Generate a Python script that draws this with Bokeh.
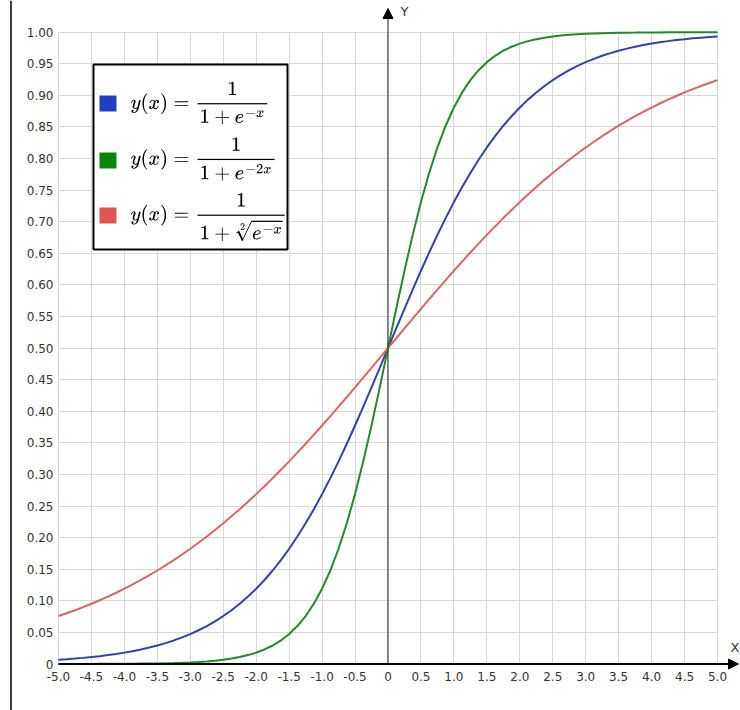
from bokeh.plotting import figure
from bokeh.models import (Range1d, FixedTicker, Arrow, NormalHead, Label, BoxAnnotation,
                          TeX, Span)
from bokeh.embed import file_html
from bokeh.resources import INLINE

# ---- data ----
x_vals = [-5.0, -4.875, -4.75, -4.625, -4.5, -4.375, -4.25, -4.125, -4.0, -3.875,
          -3.75, -3.625, -3.5, -3.375, -3.25, -3.125, -3.0, -2.875, -2.75, -2.625,
          -2.5, -2.375, -2.25, -2.125, -2.0, -1.875, -1.75, -1.625, -1.5, -1.375,
          -1.25, -1.125, -1.0, -0.875, -0.75, -0.625, -0.5, -0.375, -0.25, -0.125,
          0.0,
          0.125, 0.25, 0.375, 0.5, 0.625, 0.75, 0.875, 1.0, 1.125, 1.25,
          1.375, 1.5, 1.625, 1.75, 1.875, 2.0, 2.125, 2.25, 2.375, 2.5,
          2.625, 2.75, 2.875, 3.0, 3.125, 3.25, 3.375, 3.5, 3.625, 3.75,
          3.875, 4.0, 4.125, 4.25, 4.375, 4.5, 4.625, 4.75, 4.875, 5.0]

blue_vals = [0.0067, 0.0076, 0.0086, 0.0097, 0.0111, 0.0124, 0.0141, 0.0159, 0.0180, 0.0203,
             0.0230, 0.0260, 0.0293, 0.0331, 0.0373, 0.0421, 0.0474, 0.0534, 0.0601, 0.0675,
             0.0759, 0.0851, 0.0953, 0.1067, 0.1192, 0.1330, 0.1480, 0.1645, 0.1824, 0.2018,
             0.2227, 0.2451, 0.2689, 0.2942, 0.3208, 0.3486, 0.3775, 0.4073, 0.4378, 0.4688,
             0.5000,
             0.5312, 0.5622, 0.5927, 0.6225, 0.6514, 0.6792, 0.7058, 0.7311, 0.7549, 0.7773,
             0.7982, 0.8176, 0.8355, 0.8520, 0.8670, 0.8808, 0.8933, 0.9047, 0.9149, 0.9241,
             0.9325, 0.9399, 0.9466, 0.9526, 0.9579, 0.9627, 0.9669, 0.9707, 0.9740, 0.9770,
             0.9797, 0.9820, 0.9841, 0.9859, 0.9876, 0.9889, 0.9903, 0.9914, 0.9924, 0.9933]

green_vals = [0.0000, 0.0001, 0.0001, 0.0001, 0.0001, 0.0002, 0.0002, 0.0003, 0.0003, 0.0004,
              0.0006, 0.0007, 0.0009, 0.0012, 0.0015, 0.0019, 0.0025, 0.0032, 0.0041, 0.0052,
              0.0067, 0.0086, 0.0111, 0.0141, 0.0180, 0.0230, 0.0293, 0.0373, 0.0474, 0.0601,
              0.0759, 0.0953, 0.1192, 0.1480, 0.1824, 0.2227, 0.2689, 0.3208, 0.3775, 0.4378,
              0.5000,
              0.5622, 0.6225, 0.6792, 0.7311, 0.7773, 0.8176, 0.8520, 0.8808, 0.9047, 0.9241,
              0.9399, 0.9526, 0.9627, 0.9707, 0.9770, 0.9820, 0.9859, 0.9889, 0.9914, 0.9933,
              0.9948, 0.9959, 0.9968, 0.9975, 0.9981, 0.9985, 0.9988, 0.9991, 0.9993, 0.9994,
              0.9996, 0.9997, 0.9997, 0.9998, 0.9998, 0.9999, 0.9999, 0.9999, 0.9999, 1.0000]

red_vals = [0.0759, 0.0804, 0.0851, 0.0901, 0.0953, 0.1009, 0.1067, 0.1128, 0.1192, 0.1259,
            0.1330, 0.1403, 0.1480, 0.1561, 0.1645, 0.1733, 0.1824, 0.1919, 0.2018, 0.2121,
            0.2227, 0.2337, 0.2451, 0.2568, 0.2689, 0.2814, 0.2942, 0.3074, 0.3208, 0.3346,
            0.3486, 0.3630, 0.3775, 0.3923, 0.4073, 0.4225, 0.4378, 0.4533, 0.4688, 0.4844,
            0.5000,
            0.5156, 0.5312, 0.5467, 0.5622, 0.5775, 0.5927, 0.6077, 0.6225, 0.6370, 0.6514,
            0.6654, 0.6792, 0.6926, 0.7058, 0.7186, 0.7311, 0.7432, 0.7549, 0.7663, 0.7773,
            0.7879, 0.7982, 0.8081, 0.8176, 0.8267, 0.8355, 0.8439, 0.8520, 0.8597, 0.8670,
            0.8741, 0.8808, 0.8872, 0.8933, 0.8991, 0.9047, 0.9099, 0.9149, 0.9196, 0.9241]

series_formulas = [r"y(x) = \dfrac{1}{1+e^{-x}}",
                   r"y(x) = \dfrac{1}{1+e^{-2x}}",
                   r"y(x) = \dfrac{1}{1+\sqrt[2]{e^{-x}}}"]

x_ticks = [-5.0, -4.5, -4.0, -3.5, -3.0, -2.5, -2.0, -1.5, -1.0, -0.5, 0.0,
           0.5, 1.0, 1.5, 2.0, 2.5, 3.0, 3.5, 4.0, 4.5, 5.0]
x_tick_labels = ["-5.0", "-4.5", "-4.0", "-3.5", "-3.0", "-2.5", "-2.0", "-1.5", "-1.0", "-0.5", "0",
                 "0.5", "1.0", "1.5", "2.0", "2.5", "3.0", "3.5", "4.0", "4.5", "5.0"]
y_ticks = [0.0, 0.05, 0.1, 0.15, 0.2, 0.25, 0.3, 0.35, 0.4, 0.45, 0.5,
           0.55, 0.6, 0.65, 0.7, 0.75, 0.8, 0.85, 0.9, 0.95, 1.0]
y_tick_labels = ["0", "0.05", "0.10", "0.15", "0.20", "0.25", "0.30", "0.35", "0.40", "0.45", "0.50",
                 "0.55", "0.60", "0.65", "0.70", "0.75", "0.80", "0.85", "0.90", "0.95", "1.00"]

# ---- styles / layout ----
line_colors = ["#3142a8", "#23892a", "#de6464"]
swatch_colors = ["#1f3fc4", "#0b840b", "#e05656"]
TICK_FONT = "DejaVu Sans"
X0, X1 = -5.0, 5.0
Y0, Y1 = 0.0, 1.0

p = figure(width=740, height=710, output_backend="svg", toolbar_location=None,
           x_range=Range1d(-5.8801, 5.3490), y_range=Range1d(-0.0736, 1.0502),
           min_border=0, min_border_left=0, min_border_right=0,
           min_border_top=0, min_border_bottom=0)
p.outline_line_color = None
p.background_fill_color = "white"
p.border_fill_color = "white"

p.xaxis[0].fixed_location = Y0
p.yaxis[0].fixed_location = X0
for ax, ticks, labels, standoff in ((p.xaxis[0], x_ticks, x_tick_labels, 8),
                                    (p.yaxis[0], y_ticks, y_tick_labels, 5)):
    ax.ticker = FixedTicker(ticks=ticks)
    ax.major_label_overrides = {t: l for t, l in zip(ticks, labels)}
    ax.axis_line_color = None
    ax.major_tick_line_color = None
    ax.minor_tick_line_color = None
    ax.major_tick_out = 0
    ax.major_tick_in = 0
    ax.major_label_standoff = standoff
    ax.major_label_text_font = TICK_FONT
    ax.major_label_text_font_size = "12px"
    ax.major_label_text_color = "#333333"

p.xgrid[0].cross_bounds = (Y0, Y1)
p.ygrid[0].cross_bounds = (X0, X1)
for g in (p.xgrid[0], p.ygrid[0]):
    g.grid_line_color = "#d8d8d8"
    g.grid_line_width = 1

# curves
for ys, col in zip((blue_vals, green_vals, red_vals), line_colors):
    p.line(x_vals, ys, line_color=col, line_width=2)

# axes with arrows
p.add_layout(Arrow(end=NormalHead(size=10, fill_color="black", line_color="black"),
                   x_start=0, y_start=Y0, x_end=0, y_end=1.0375,
                   line_color="#222222", line_width=1))
p.add_layout(Arrow(end=NormalHead(size=10, fill_color="black", line_color="black"),
                   x_start=X0, y_start=Y0, x_end=5.319, y_end=Y0,
                   line_color="black", line_width=2))
# page border line at the far left
p.add_layout(Span(location=-5.721, dimension="height", line_color="black", line_width=1.5))

p.add_layout(Label(x=0.19, y=1.032, text="Y", text_font=TICK_FONT, text_font_size="13px",
                   text_color="#333333", text_baseline="middle", text_align="left"))
p.add_layout(Label(x=5.197, y=0.026, text="X", text_font=TICK_FONT, text_font_size="13px",
                   text_color="#333333", text_baseline="middle", text_align="left"))

# legend box
p.add_layout(BoxAnnotation(left=-4.469, right=-1.525, top=0.949, bottom=0.656,
                           fill_color="white", fill_alpha=1.0,
                           line_color="black", line_width=2, line_alpha=1.0))
sw_tops = [0.8998, 0.8096, 0.7226]
sw_h = 0.0254
label_ys = [0.8880, 0.7993, 0.7075]
for col, top, ly, formula in zip(swatch_colors, sw_tops, label_ys, series_formulas):
    p.add_layout(BoxAnnotation(left=-4.378, right=-4.120, top=top, bottom=top - sw_h,
                               fill_color=col, fill_alpha=1.0, line_color=None))
    p.add_layout(Label(x=-3.907, y=ly, text=TeX(text=formula), text_font_size="17px",
                       text_color="#000000", text_baseline="middle", text_align="left"))

open("out.html", "w").write(file_html(p, INLINE))
